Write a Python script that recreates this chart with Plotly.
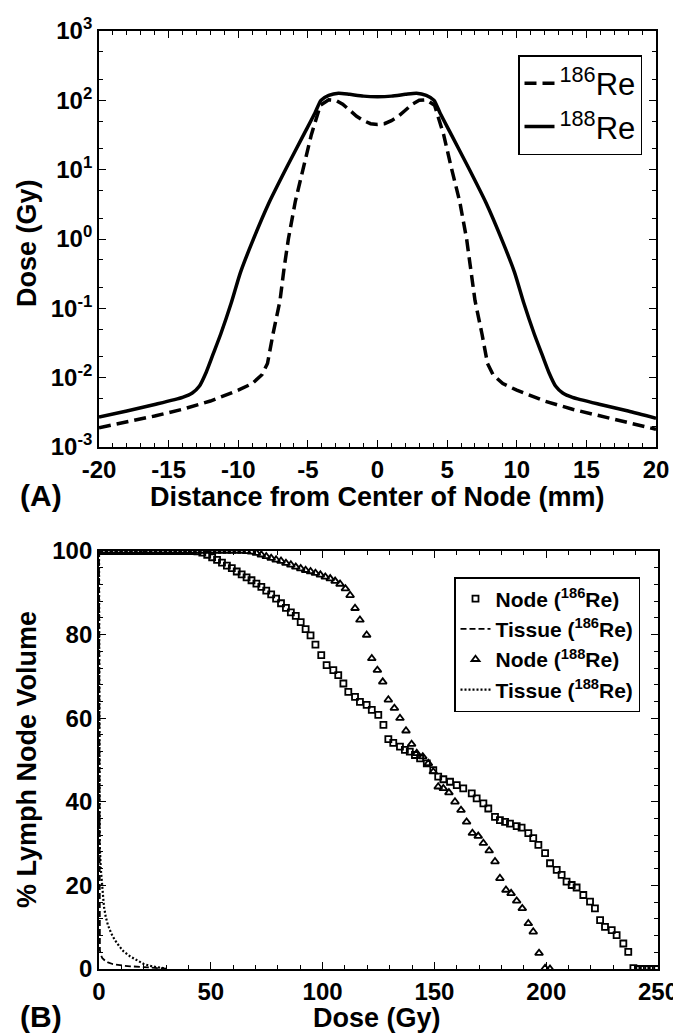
import plotly.graph_objects as go

# (A) dose profile across the node
x_re186 = [-20, -18, -16, -14, -12, -10, -9, -8.3, -7.9, -7.5, -7.0, -6.7, -6.4, -5.9, -5.3, -4.75, -4.1,
           -3.5, -3.0, -2.5, -2.0, -1.5, -1.0, -0.5, 0, 0.5, 1.0, 1.5, 2.0, 2.5, 3.0, 3.5,
           4.1, 4.75, 5.3, 5.9, 6.4, 6.7, 7.0, 7.5, 7.9, 8.3, 9, 10, 12, 14, 16, 18, 20]
dose_re186 = [1.9e-3, 2.3e-3, 2.8e-3, 3.5e-3, 4.6e-3, 6.6e-3, 8.2e-3, 1.1e-2, 1.6e-2, 4.3e-2, 0.13, 0.39, 1.0, 3.5, 10.7, 32, 85,
              102, 100, 88, 72, 59, 51, 46, 45, 46, 51, 59, 72, 88, 100, 102,
              85, 32, 10.7, 3.5, 1.0, 0.39, 0.13, 4.3e-2, 1.6e-2, 1.1e-2, 8.2e-3, 6.6e-3, 4.6e-3, 3.5e-3, 2.8e-3, 2.3e-3, 1.8e-3]

x_re188 = [-20, -18, -16, -14, -13.3, -12.8, -12.3, -11.8, -11.25, -10.5, -9.84, -9, -7.8, -6.5, -5.3, -4.5, -4.06,
           -3.5, -2.8, -2.0, -1.0, 0, 1.0, 2.0, 2.8, 3.5,
           4.06, 4.5, 5.3, 6.5, 7.8, 9, 9.84, 10.5, 11.25, 11.8, 12.3, 12.8, 13.3, 14, 16, 18, 20]
dose_re188 = [2.7e-3, 3.3e-3, 4.1e-3, 5.2e-3, 6.0e-3, 7.5e-3, 0.012, 0.022, 0.043, 0.12, 0.33, 0.9, 3.3, 11, 32, 65, 100,
              118, 127, 122, 115, 113, 115, 122, 127, 118,
              100, 65, 32, 11, 3.3, 0.9, 0.33, 0.12, 0.043, 0.022, 0.012, 7.5e-3, 6.0e-3, 5.2e-3, 4.1e-3, 3.3e-3, 2.6e-3]

# (B) dose volume histograms
node186_dose = [0, 2.2, 4.4, 6.6, 8.8, 11, 13.2, 15.4, 17.6, 19.8, 22, 24.2, 26.4, 28.6, 30.8, 33, 35.2, 37.4, 39.6, 41.8, 44,
                46.2, 48.4, 50.6, 52.8, 55, 57.2, 59.4, 61.6, 63.8, 66, 68.2, 70.4, 72.6, 74.8, 77, 79.2, 81.4, 83.6, 85.8, 88,
                90.2, 92.4, 94.6, 96.8, 99.4, 101.8, 104.8, 107, 109.3, 111.5, 114.5, 116.7, 119.7, 122, 124.9, 127.2, 129.4,
                131.6, 134.6, 136.8, 139, 141.3, 143.6, 146.6, 149.5, 151.7, 154, 157, 160, 162.9, 166.7, 168.9, 171.9, 174.1,
                177.1, 179.3, 181.6, 183.8, 186.8, 189, 192, 194.2, 196.5, 199.5, 201.7, 204.7, 206.9, 209.1, 211.4, 213.6,
                216.6, 219.6, 221.8, 224.1, 226.3, 229.3, 231.5, 234.5, 236.7, 239, 241, 243, 245, 247, 249]
node186_vol = [100, 100, 100, 100, 100, 100, 100, 100, 100, 100, 100, 100, 100, 100, 100, 100, 100, 100, 100, 100, 99.9,
               99.6, 99.1, 98.5, 97.9, 97.2, 96.5, 95.9, 95.1, 94.4, 93.7, 93.0, 92.2, 91.4, 90.5, 89.6, 88.6, 87.5, 86.4, 85.3, 84.5,
               83.0, 81.3, 79.8, 77.6, 75.1, 72.7, 71.5, 70.3, 68.3, 66.3, 65.1, 63.9, 63.2, 62.0, 60.8, 58.4, 55.0,
               54.1, 53.2, 52.4, 52.0, 51.2, 50.4, 49.2, 47.6, 46.0, 45.4, 44.8, 44.0, 43.2, 42.0, 40.8, 39.6, 38.4,
               36.4, 35.6, 35.2, 34.8, 34.2, 33.8, 32.5, 31.3, 29.7, 27.7, 25.3, 23.7, 22.5, 20.9, 20.1, 19.5,
               17.7, 16.1, 14.5, 11.7, 10.1, 9.3, 8.1, 6.1, 4.1, 0.2, 0, 0, 0, 0, 0]

node188_dose = [0, 2.2, 4.4, 6.6, 8.8, 11, 13.2, 15.4, 17.6, 19.8, 22, 24.2, 26.4, 28.6, 30.8, 33, 35.2, 37.4, 39.6, 41.8, 44,
                46.2, 48.4, 50.6, 52.8, 55, 57.2, 59.4, 61.6, 63.8, 66, 68.2, 70.4, 72.6, 74.8, 77, 79.2, 81.4, 83.6, 85.8, 88,
                90.2, 92.4, 94.6, 96.8, 99, 101.2, 103.4, 105.6, 107.8, 110.2, 112.3, 114.5, 116.7, 119.7, 122, 124.5, 126.9,
                129.4, 132.1, 134.6, 137.3, 139.8, 142.1, 144.8, 147.3, 149.5, 151.7, 154, 156.5, 159.2, 161.9, 164.4, 167,
                169.6, 171.9, 174.5, 177.1, 179.3, 182, 184.3, 186.8, 189.3, 192, 194.2, 196.8, 199.5, 201.7]
node188_vol = [100, 100, 100, 100, 100, 100, 100, 100, 100, 100, 100, 100, 100, 100, 100, 100, 100, 100, 100, 100, 100,
               100, 100, 100, 100, 100, 100, 100, 100, 100, 99.9, 99.8, 99.5, 99.1, 98.7, 98.3, 97.9, 97.6, 97.1, 96.7, 96.2,
               95.8, 95.4, 95.1, 94.7, 94.3, 93.8, 93.4, 92.8, 92.1, 91.0, 89.4, 86.3, 83.5, 79.9, 74.3, 71.5, 68.7,
               64.4, 62.4, 60.0, 57.0, 53.8, 51.6, 50.8, 49.2, 47.2, 43.6, 43.2, 42.2, 40.0, 38.0, 35.2, 32.5,
               31.8, 30.1, 28.3, 25.7, 21.7, 18.9, 18.1, 16.3, 14.5, 10.9, 8.9, 3.8, 0.2, 0]

tissue186_dose = [0, 0.2, 0.4, 0.8, 1.5, 2.7, 4, 6, 8, 11, 14, 17, 20, 24, 27, 30]
tissue186_vol = [100, 12, 4.5, 3.4, 2.6, 2.0, 1.6, 1.2, 1.0, 0.8, 0.65, 0.55, 0.45, 0.3, 0.2, 0.1]

tissue188_dose = [0, 0.3, 0.8, 1.5, 2.2, 3, 4, 5.5, 7, 9, 11, 14, 17, 20, 24, 27, 30]
tissue188_vol = [100, 30, 24, 19, 15, 12.5, 10.5, 8.5, 7, 5.5, 4.2, 3.0, 2.0, 1.2, 0.6, 0.3, 0.1]

log_ticks = [1e-3, 1e-2, 1e-1, 1e0, 1e1, 1e2, 1e3]
log_labels = ["10<sup>-3</sup>", "10<sup>-2</sup>", "10<sup>-1</sup>", "10<sup>0</sup>",
              "10<sup>1</sup>", "10<sup>2</sup>", "10<sup>3</sup>"]
dist_ticks = [-20, -15, -10, -5, 0, 5, 10, 15, 20]
dist_labels = ["-20", "-15", "-10", "-5", "0", "5", "10", "15", "20"]

FONT = "Liberation Sans"
# the page body has an 8px margin, so the figure sits 8px in from the window corner
OFF = 8
W, H = 681 - OFF, 1036 - OFF


def px(x):
    return (x - OFF) / W


def py(y):
    return 1 - (y - OFF) / H


fig = go.Figure()

# top panel
fig.add_trace(go.Scatter(x=x_re186, y=dose_re186, mode="lines", name="<sup>186</sup>Re",
                         line=dict(color="black", width=3.5, dash="12px,6px"), xaxis="x", yaxis="y"))
fig.add_trace(go.Scatter(x=x_re188, y=dose_re188, mode="lines", name="<sup>188</sup>Re",
                         line=dict(color="black", width=3.5, shape="spline", smoothing=0.6), xaxis="x", yaxis="y"))

# bottom panel
fig.add_trace(go.Scatter(x=node186_dose, y=node186_vol, mode="markers", name="Node (<sup>186</sup>Re)",
                         marker=dict(symbol="square-open", size=6, color="black", line=dict(width=1.8)),
                         xaxis="x2", yaxis="y2", legend="legend2"))
fig.add_trace(go.Scatter(x=tissue186_dose, y=tissue186_vol, mode="lines", name="Tissue (<sup>186</sup>Re)",
                         line=dict(color="black", width=1.8, dash="6px,3px"),
                         xaxis="x2", yaxis="y2", legend="legend2"))
fig.add_trace(go.Scatter(x=node188_dose, y=node188_vol, mode="markers", name="Node (<sup>188</sup>Re)",
                         marker=dict(symbol="triangle-up-open", size=7, color="black", line=dict(width=1.8)),
                         xaxis="x2", yaxis="y2", legend="legend2"))
fig.add_trace(go.Scatter(x=tissue188_dose, y=tissue188_vol, mode="lines", name="Tissue (<sup>188</sup>Re)",
                         line=dict(color="black", width=2.2, dash="2px,2px"),
                         xaxis="x2", yaxis="y2", legend="legend2"))

tick_font = dict(family=FONT, size=24, color="black", weight="bold")
common = dict(showline=True, linecolor="black", linewidth=1.8, mirror="allticks", ticks="inside",
              ticklen=7, tickwidth=1.3, tickcolor="black", showgrid=False, zeroline=False,
              tickfont=tick_font, automargin=False)

fig.update_layout(
    width=W, height=H,
    margin=dict(l=0, r=0, t=0, b=0, pad=0, autoexpand=False),
    paper_bgcolor="white", plot_bgcolor="white",
    showlegend=True,
    xaxis=dict(domain=[px(99), px(656)], range=[-20, 20], tickvals=dist_ticks, ticktext=dist_labels, anchor="y",
               minor=dict(ticks="inside", dtick=1, ticklen=4, tickcolor="black"), **common),
    yaxis=dict(domain=[py(447), py(31)], type="log", range=[-3, 3], anchor="x",
               tickvals=log_ticks, ticktext=log_labels,
               minor=dict(ticks="inside", ticklen=4, tickcolor="black"), **common),
    xaxis2=dict(domain=[px(99), px(658)], range=[0, 250], dtick=50, anchor="y2",
                minor=dict(ticks="inside", dtick=10, ticklen=4, tickcolor="black"), **common),
    yaxis2=dict(domain=[py(969), py(551)], range=[0, 100], dtick=20, anchor="x2",
                minor=dict(ticks="inside", dtick=4, ticklen=4, tickcolor="black"), **common),
    legend=dict(x=px(642), y=py(55), xanchor="right", yanchor="top",
                bordercolor="black", borderwidth=1.5, bgcolor="white",
                font=dict(family=FONT, size=31, color="black"), tracegroupgap=0),
    legend2=dict(x=px(640), y=py(577), xanchor="right", yanchor="top",
                 bordercolor="black", borderwidth=1.5, bgcolor="white",
                 font=dict(family=FONT, size=21, color="black", weight="bold"), tracegroupgap=0),
)

title_font = dict(family=FONT, size=27, color="black", weight="bold")
label_font = dict(family=FONT, size=30, color="black", weight="bold")
notes = [
    ("Distance from Center of Node (mm)", 377, 497, 0, title_font),
    ("Dose (Gy)", 27, 243, -90, title_font),
    ("Dose (Gy)", 377, 1018, 0, title_font),
    ("% Lymph Node Volume", 27, 760, -90, title_font),
    ("(A)", 41, 495, 0, label_font),
    ("(B)", 41, 1016, 0, label_font),
]
for text, nx, ny, angle, font in notes:
    fig.add_annotation(text=text, x=px(nx), y=py(ny), textangle=angle, xref="paper", yref="paper",
                       xanchor="center", yanchor="middle", showarrow=False, font=font)

fig.write_html("out.html")
